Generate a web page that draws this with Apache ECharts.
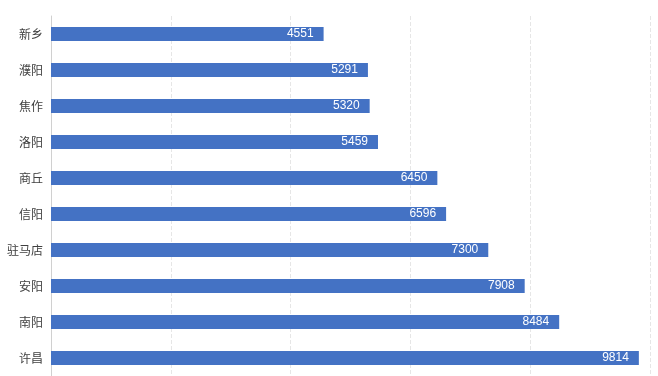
<!DOCTYPE html>
<html>
<head>
<meta charset="utf-8">
<script src="https://cdn.jsdelivr.net/npm/echarts@6/dist/echarts.min.js"></script>
<style>
  html, body { margin: 0; padding: 0; background: #fff; }
  #chart { width: 658px; height: 376px; }
</style>
</head>
<body>
<div id="chart"></div>
<script>
  // top to bottom as in the picture
  var cities = ['新乡', '濮阳', '焦作', '洛阳', '商丘', '信阳', '驻马店', '安阳', '南阳', '许昌']
  var counts = [4551, 5291, 5320, 5459, 6450, 6596, 7300, 7908, 8484, 9814]

  var chart = echarts.init(document.getElementById('chart'))
  chart.setOption({
    backgroundColor: '#fff',
    animation: false,
    grid: {
      left: 51,
      right: 8,
      top: 16,
      bottom: 0,
      containLabel: false
    },
    xAxis: {
      type: 'value',
      min: 0,
      max: 10000,
      interval: 2000,
      axisLabel: { show: false },
      axisLine: { show: false },
      axisTick: { show: false },
      splitLine: {
        show: true,
        lineStyle: { color: '#e6e6e6', type: 'dashed' }
      }
    },
    yAxis: {
      type: 'category',
      data: cities,
      inverse: true,
      axisTick: { show: false },
      axisLine: { show: true, lineStyle: { color: '#d0d0d0' } },
      axisLabel: {
        color: '#404040',
        fontSize: 12,
        fontFamily: 'Noto Sans CJK SC',
        margin: 8
      }
    },
    series: [{
      type: 'bar',
      data: counts,
      barWidth: 14,
      itemStyle: { color: '#4472C4' },
      label: {
        show: true,
        position: 'insideRight',
        color: '#fff',
        fontSize: 12,
        fontFamily: 'Liberation Sans',
        distance: 10
      }
    }]
  })
</script>
</body>
</html>
